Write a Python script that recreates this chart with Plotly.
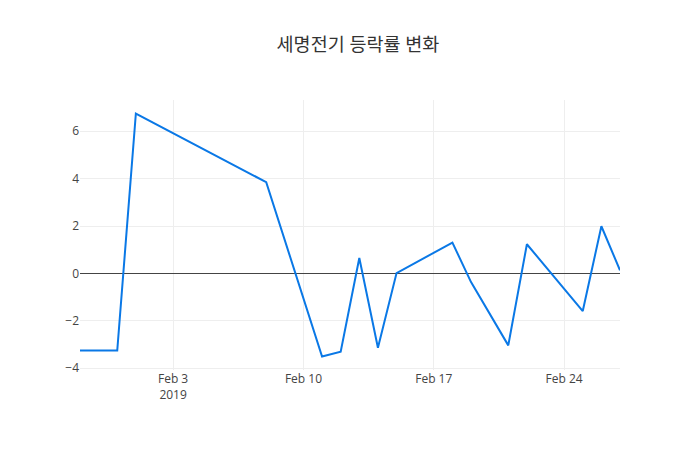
import plotly.graph_objects as go

# 세명전기 일별 등락률 (%)
dates = ['2019-01-29', '2019-01-31', '2019-02-01', '2019-02-08', '2019-02-11',
         '2019-02-12', '2019-02-13', '2019-02-14', '2019-02-15', '2019-02-18',
         '2019-02-19', '2019-02-21', '2019-02-22', '2019-02-25', '2019-02-26',
         '2019-02-27']
change_rate = [-3.26, -3.26, 6.75, 3.85, -3.51,
               -3.31, 0.65, -3.14, 0.01, 1.30,
               -0.37, -3.04, 1.23, -1.59, 1.99,
               0.13]

trace = go.Scatter(
    x=dates,
    y=change_rate,
    mode='lines',
    line=dict(color='rgb(10,120,230)', width=2),
)

# the page body has an 8px margin, so the margins are shifted to keep the plot area in place
layout = go.Layout(
    template='none',
    width=700,
    height=450,
    title=dict(text='세명전기 등락률 변화', x=0.5, xanchor='center',
               y=0.918, yanchor='middle',
               font=dict(size=18.5, color='#333')),
    font=dict(family='"Open Sans", "Noto Sans CJK KR", sans-serif', size=12, color='#444'),
    paper_bgcolor='white',
    plot_bgcolor='white',
    margin=dict(l=72, r=88, t=92, b=88),
    xaxis=dict(type='date', showgrid=True, gridcolor='#eee', zeroline=False,
               showline=False, ticks=''),
    yaxis=dict(showgrid=True, gridcolor='#eee', zeroline=True, zerolinecolor='#444',
               zerolinewidth=1, showline=False, ticks='', dtick=2),
    showlegend=False,
)

fig = go.Figure(data=[trace], layout=layout)
fig.write_html('out.html')
